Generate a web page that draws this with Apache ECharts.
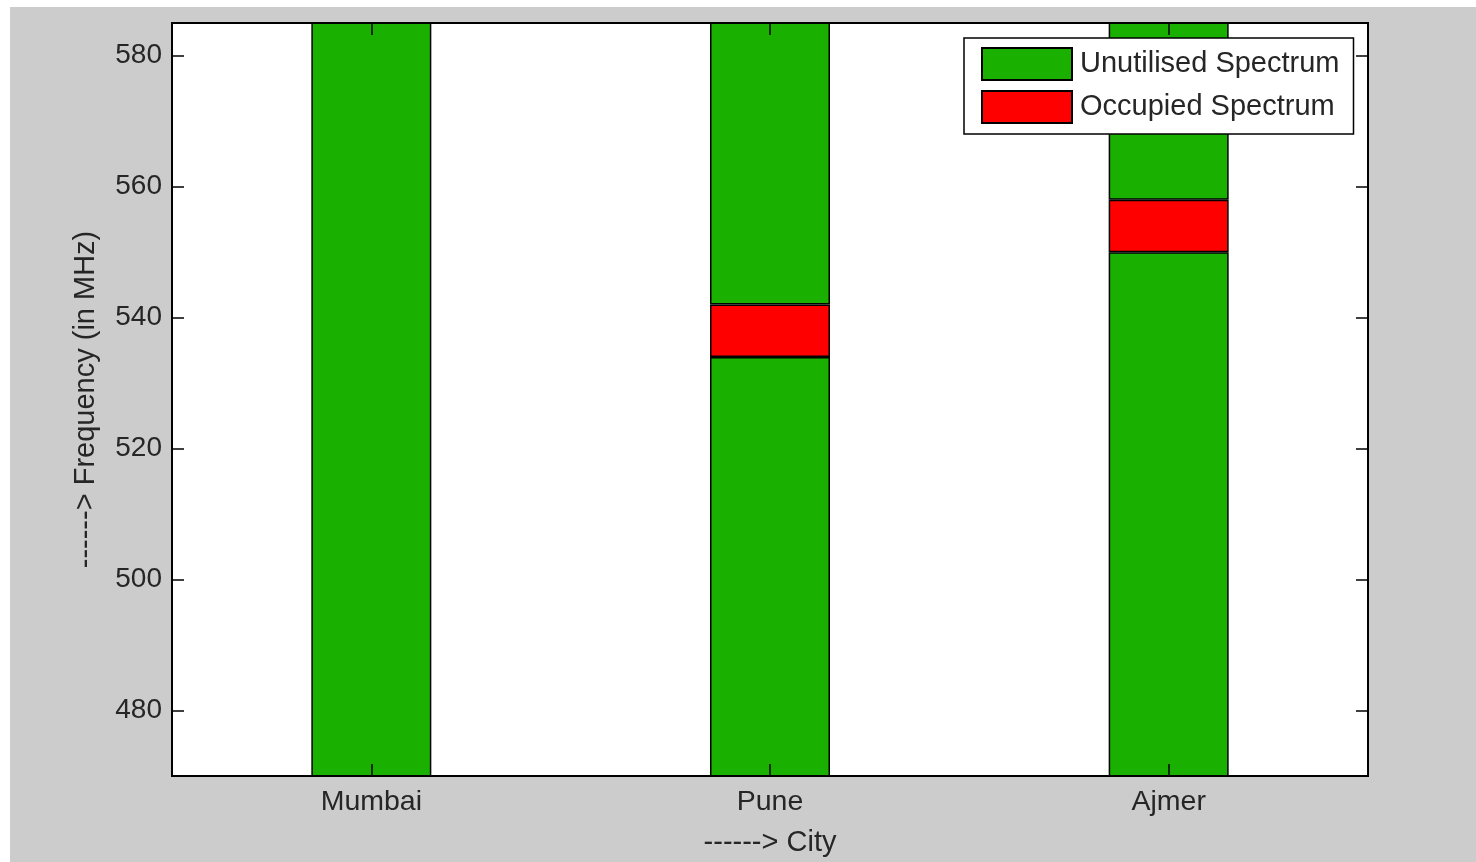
<!DOCTYPE html>
<html><head><meta charset="utf-8">
<script src="https://cdn.jsdelivr.net/npm/echarts@6/dist/echarts.min.js"></script>
<style>
html,body{margin:0;padding:0;background:#ffffff;width:1476px;height:862px;overflow:hidden;}
#c{position:absolute;left:10px;top:7px;width:1466px;height:855px;}
</style></head>
<body><div id="c"></div>
<script>
const cities = ['Mumbai', 'Pune', 'Ajmer'];
const unutilisedLower = [590, 534, 550];
const occupied = ['-', 8, 8];
const unutilisedUpper = ['-', 48, 32];
const yTicks = [480, 500, 520, 540, 560, 580];
const yMin = 470, yMax = 585;

const FONT = 'Liberation Sans, Arial, sans-serif';
const txt = '#262626';
const green = '#19b000', red = '#ff0000';
const chart = echarts.init(document.getElementById('c'));
const barStyle = c => ({color: c, borderColor: '#000', borderWidth: 1.5});
chart.setOption({
  backgroundColor: '#cccccc',
  animation: false,
  textStyle: {fontFamily: FONT},
  grid: {left: 162, top: 16, width: 1196, height: 758, show: true, backgroundColor: '#fff', borderColor: '#000', borderWidth: 2},
  legend: {
    data: ['Unutilised Spectrum', 'Occupied Spectrum'],
    orient: 'vertical', left: 954, top: 31, icon: 'rect',
    padding: [9, 14, 10, 17], itemGap: 9, itemWidth: 90, itemHeight: 32,
    backgroundColor: '#fff', borderColor: '#000', borderWidth: 1.5,
    textStyle: {fontSize: 29, color: txt, fontFamily: FONT, padding: [0, 0, 0, 3]},
    selectedMode: false
  },
  xAxis: [
    {type: 'category', data: cities, position: 'bottom', z: 10,
     axisLine: {show: true, lineStyle: {color: '#000', width: 2}},
     axisTick: {show: true, inside: true, alignWithLabel: true, length: 12, lineStyle: {color: '#000', width: 1.5}},
     axisLabel: {fontSize: 28.5, color: txt, margin: 12},
     name: '------> City', nameLocation: 'middle', nameGap: 52,
     nameTextStyle: {fontSize: 29, color: txt}},
    {type: 'category', data: cities, position: 'top', z: 10,
     axisLine: {show: true, lineStyle: {color: '#000', width: 2}},
     axisTick: {show: true, inside: true, alignWithLabel: true, length: 12, lineStyle: {color: '#000', width: 1.5}},
     axisLabel: {show: false}}
  ],
  yAxis: [
    {type: 'value', min: yMin, max: yMax, interval: 20, position: 'left', z: 10,
     axisLine: {show: true, lineStyle: {color: '#000', width: 2}},
     axisTick: {show: true, inside: true, length: 12, lineStyle: {color: '#000', width: 1.5},
       customValues: yTicks},
     axisLabel: {fontSize: 28, color: txt, margin: 10, customValues: yTicks},
     splitLine: {show: false},
     name: '------> Frequency (in MHz)', nameLocation: 'middle', nameGap: 72, nameRotate: 90,
     nameTextStyle: {fontSize: 29, color: txt}},
    {type: 'value', min: yMin, max: yMax, interval: 20, position: 'right', z: 10,
     axisLine: {show: true, lineStyle: {color: '#000', width: 2}},
     axisTick: {show: true, inside: true, length: 12, lineStyle: {color: '#000', width: 1.5},
       customValues: yTicks},
     axisLabel: {show: false}, splitLine: {show: false}}
  ],
  series: [
    {name: 'Unutilised Spectrum', type: 'bar', stack: 's', barWidth: 120, data: unutilisedLower, itemStyle: barStyle(green)},
    {name: 'Occupied Spectrum', type: 'bar', stack: 's', barWidth: 120, data: occupied, itemStyle: barStyle(red)},
    {name: 'Unutilised Spectrum', type: 'bar', stack: 's', barWidth: 120, data: unutilisedUpper, itemStyle: barStyle(green)}
  ]
});
</script></body></html>
